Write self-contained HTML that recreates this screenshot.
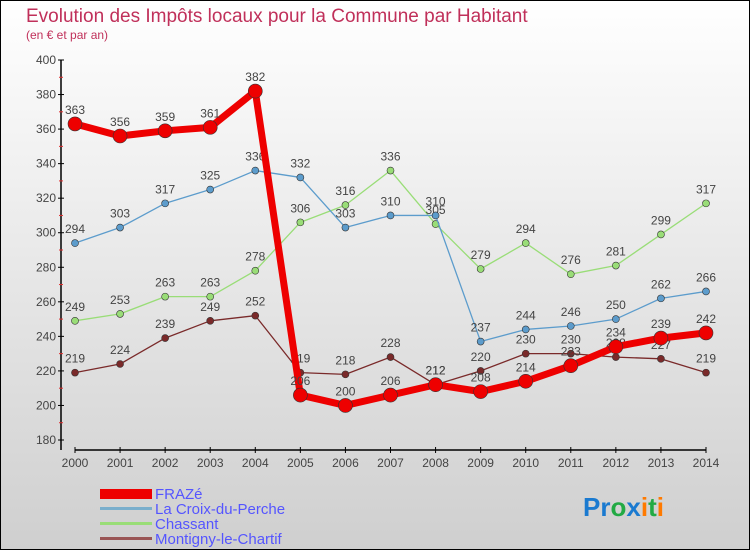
<!DOCTYPE html>
<html><head><meta charset="utf-8"><style>
body{margin:0;width:750px;height:550px;overflow:hidden;font-family:"Liberation Sans",sans-serif}
svg{display:block}
</style></head><body>
<svg id="c" width="750" height="550" xmlns="http://www.w3.org/2000/svg">
<defs><linearGradient id="bg" x1="0" y1="0" x2="0" y2="1"><stop offset="0" stop-color="#ffffff"/><stop offset="1" stop-color="#cfcfcf"/></linearGradient></defs>
<rect x="0.5" y="0.5" width="749" height="549" fill="url(#bg)" stroke="#000"/>
<text x="26" y="22" font-size="19" fill="#c0305a">Evolution des Impôts locaux pour la Commune par Habitant</text>
<text x="26" y="39" font-size="12" fill="#c0305a">(en € et par an)</text>
<g id="axes"></g><g id="series"></g>
<g>
<rect x="100" y="489" width="52" height="10" fill="#ee0000"/>
<text x="155" y="499" font-size="15" fill="#5555ff">FRAZé</text>
<rect x="100" y="507" width="52" height="3" fill="#7aaecc"/>
<text x="155" y="514" font-size="15" fill="#5555ff">La Croix-du-Perche</text>
<rect x="100" y="522" width="52" height="3" fill="#99dd77"/>
<text x="155" y="529" font-size="15" fill="#5555ff">Chassant</text>
<rect x="100" y="537" width="52" height="3" fill="#995555"/>
<text x="155" y="544" font-size="15" fill="#5555ff">Montigny-le-Chartif</text>
</g>
<text x="583" y="516" font-size="26" font-weight="bold"><tspan fill="#1a7ad0">Pr</tspan><tspan fill="#22aa44">o</tspan><tspan fill="#1a7ad0">x</tspan><tspan fill="#ff7a00">i</tspan><tspan fill="#22aa44">t</tspan><tspan fill="#ff7a00">i</tspan></text>
</svg>
<script>
const years=["2000","2001","2002","2003","2004","2005","2006","2007","2008","2009","2010","2011","2012","2013","2014"];
const yTicks=[180,200,220,240,260,280,300,320,340,360,380,400];
const fraze=[363,356,359,361,382,206,200,206,212,208,214,223,234,239,242];
const croix=[294,303,317,325,336,332,303,310,310,237,244,246,250,262,266];
const chassant=[249,253,263,263,278,306,316,336,305,279,294,276,281,299,317];
const montigny=[219,224,239,249,252,219,218,228,212,220,230,230,228,227,219];
const NS="http://www.w3.org/2000/svg";
const X=i=>75+i*(631/14);
const Y=v=>440-(v-180)*(380/220);
function mk(p,t,a){const e=document.createElementNS(NS,t);for(const k in a)e.setAttribute(k,a[k]);p.appendChild(e);return e;}
const ax=document.getElementById('axes');
const yl=mk(ax,'line',{x1:61,y1:60,x2:61,y2:450,stroke:'#000','stroke-width':1.5});


const xl=mk(ax,'line',{x1:75,y1:450,x2:706,y2:450,stroke:'#000','stroke-width':1.5});


yTicks.forEach(v=>{
 mk(ax,'line',{x1:58,y1:Y(v),x2:64,y2:Y(v),stroke:'#000'});
 if(v<400) mk(ax,'line',{x1:59,y1:Y(v+10),x2:63,y2:Y(v+10),stroke:'#e03030'});
 const t=mk(ax,'text',{x:56,y:Y(v)+4,'font-size':12,fill:'#444','text-anchor':'end'});
 t.textContent=v;
 
 
});
years.forEach((y,i)=>{
 mk(ax,'line',{x1:X(i),y1:447,x2:X(i),y2:453,stroke:'#000'});
 const t=mk(ax,'text',{x:X(i),y:467,'font-size':12,fill:'#444','text-anchor':'middle'});
 t.textContent=y;
 
 
});
const sg=document.getElementById('series');
function draw(data,color,w,r,name){
 const g=mk(sg,'g',{});
 
 
 const pl=mk(g,'polyline',{points:data.map((v,i)=>X(i)+','+Y(v)).join(' '),fill:'none',stroke:color,'stroke-width':w,'stroke-linejoin':'round'});
 
 
 data.forEach((v,i)=>{
  const c=mk(g,'circle',{cx:X(i),cy:Y(v),r:r,fill:color,stroke:'#333','stroke-width':0.6});
  
  
  const t=mk(g,'text',{x:X(i),y:Y(v)-10,'font-size':12,fill:'#444','text-anchor':'middle'});
  t.textContent=v;
  
  
 });
}
draw(montigny,'#7a2a2a',1.3,3.5,'montigny');
draw(chassant,'#99dd77',1.3,3.5,'chassant');
draw(croix,'#5c9ccc',1.3,3.5,'croix');
draw(fraze,'#ee0000',7,7,'fraze');
</script>
</body></html>
